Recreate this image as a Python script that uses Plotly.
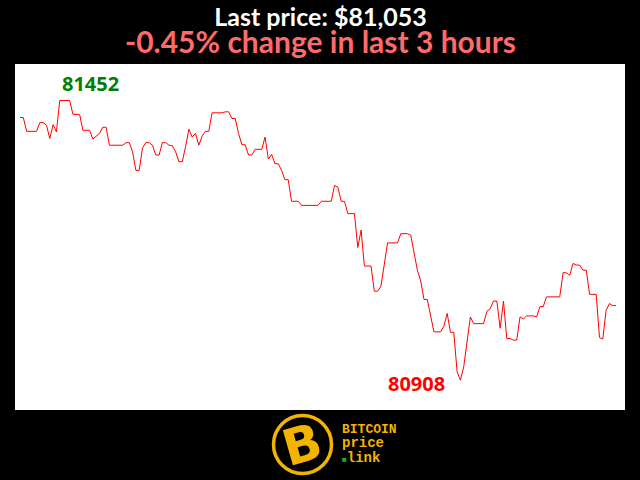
import plotly.graph_objects as go

# minutes since start of 3-hour window
minutes = [0, 1, 2, 5, 6, 7, 8, 9, 10, 11,
           12, 15, 16, 18, 19, 21, 22, 23, 24, 25,
           26, 27, 31, 32, 33, 34, 35, 36, 37, 38,
           39, 40, 41, 42, 43, 44, 45, 46, 47, 48,
           49, 50, 51, 52, 53, 54, 55, 56, 57, 58,
           61, 62, 63, 64, 65, 66, 67, 68, 69, 70,
           71, 73, 74, 75, 76, 77, 78, 79, 80, 81,
           82, 84, 85, 90, 91, 94, 95, 96, 97, 98,
           99, 101, 102, 103, 104, 106, 107, 108, 109, 111,
           114, 115, 117, 118, 120, 121, 122, 123, 125, 127,
           128, 129, 130, 131, 132, 133, 134, 136, 137, 140,
           141, 142, 143, 144, 145, 146, 147, 148, 149, 150,
           151, 152, 153, 155, 156, 157, 158, 159, 163, 164,
           165, 166, 167, 168, 169, 170, 171, 172, 174, 175,
           176, 177, 178, 179, 180]
prices = [81419, 81419, 81392, 81392, 81409, 81409, 81404, 81378, 81405, 81391,
          81452, 81452, 81425, 81425, 81394, 81394, 81377, 81383, 81388, 81400,
          81400, 81365, 81365, 81370, 81370, 81352, 81316, 81316, 81360, 81370,
          81370, 81365, 81346, 81346, 81370, 81370, 81365, 81364, 81352, 81333,
          81333, 81362, 81396, 81381, 81388, 81365, 81383, 81392, 81392, 81428,
          81428, 81430, 81430, 81417, 81417, 81388, 81366, 81366, 81346, 81346,
          81357, 81357, 81381, 81338, 81347, 81329, 81329, 81316, 81298, 81298,
          81256, 81256, 81248, 81248, 81256, 81256, 81287, 81283, 81256, 81256,
          81232, 81232, 81166, 81200, 81130, 81130, 81081, 81081, 81091, 81175,
          81175, 81193, 81193, 81190, 81122, 81101, 81065, 81065, 81002, 81002,
          81013, 81038, 81001, 81001, 80924, 80908, 80934, 81031, 81018, 81018,
          81042, 81047, 81062, 81062, 81009, 81062, 80989, 80989, 80986, 80986,
          81031, 81027, 81033, 81033, 81031, 81051, 81051, 81070, 81070, 81117,
          81117, 81112, 81135, 81132, 81132, 81122, 81122, 81075, 81075, 80991,
          80988, 81044, 81057, 81053, 81053]
assert len(minutes) == len(prices)

title_line1 = "Last price: $81,053"
title_line2 = "-0.45% change in last 3 hours"
logo_words = ["BITCOIN", "price", "link"]

hi = max(prices)
lo = min(prices)
hi_x = minutes[prices.index(hi)]
lo_x = minutes[prices.index(lo)]

GOLD = "#f2b400"

fig = go.Figure()
fig.add_trace(go.Scatter(x=minutes, y=prices, mode="lines",
                         line=dict(color="#ff0000", width=1), hoverinfo="skip"))

W, H = 610.0, 346.0
L, T = 15.0, 64.0


def px(xp):
    return (xp - L) / W


def py(yp):
    return (T + H - yp) / H


title_text = (f"<span style='font-size:25px;color:#ffffff'><b>{title_line1}</b></span><br>"
              f"<span style='font-size:30px;color:#ff6b6b'><b>{title_line2}</b></span>")
logo_text = (f"<span style='font-size:13px'><b>{logo_words[0]}</b></span><br>"
             f"<span style='font-size:14px'><b>{logo_words[1]}</b></span><br>"
             f"<span style='font-size:8px;color:#22aa22'>■</span>"
             f"<span style='font-size:14px'><b>{logo_words[2]}</b></span>")

annotations = [
    dict(x=hi_x, y=hi, xref="x", yref="y", text=f"<b>{hi}</b>", showarrow=False,
         xanchor="left", yanchor="bottom", yshift=2,
         font=dict(family="Open Sans", size=20, color="#008000")),
    dict(x=lo_x, y=lo, xref="x", yref="y", text=f"<b>{lo}</b>", showarrow=False,
         xanchor="right", yanchor="middle", xshift=-13, yshift=-3,
         font=dict(family="Open Sans", size=20, color="#ff0000")),
    dict(x=0.5, y=py(29.5), xref="paper", yref="paper", text=title_text,
         showarrow=False, xanchor="center", yanchor="middle",
         font=dict(family="Lato", size=21, color="white")),
    # logo
    dict(x=px(302), y=py(445), xref="paper", yref="paper", text="<b>B</b>",
         showarrow=False, xanchor="center", yanchor="middle", textangle=-16,
         font=dict(family="DejaVu Sans", size=50, color=GOLD)),
    dict(x=px(340), y=py(443.5), xref="paper", yref="paper", text=logo_text,
         showarrow=False, xanchor="left", yanchor="middle", align="left",
         font=dict(family="Liberation Mono", size=11, color=GOLD)),
]

shapes = [
    dict(type="circle", xref="paper", yref="paper",
         x0=px(273.5), x1=px(331.5), y0=py(473.5), y1=py(415.5),
         line=dict(color=GOLD, width=3.5), fillcolor="black", layer="above"),
]

fig.update_layout(
    width=640, height=480,
    margin=dict(l=15, r=15, t=64, b=70),
    paper_bgcolor="black", plot_bgcolor="white",
    showlegend=False,
    xaxis=dict(visible=False, range=[-1.51, 182.7], fixedrange=True),
    yaxis=dict(visible=False, range=[80850, 81523], fixedrange=True),
    annotations=annotations,
    shapes=shapes,
)

fig.write_html("out.html", config={"displayModeBar": False},
               post_script="document.body.style.margin='0';document.body.style.background='black';")
